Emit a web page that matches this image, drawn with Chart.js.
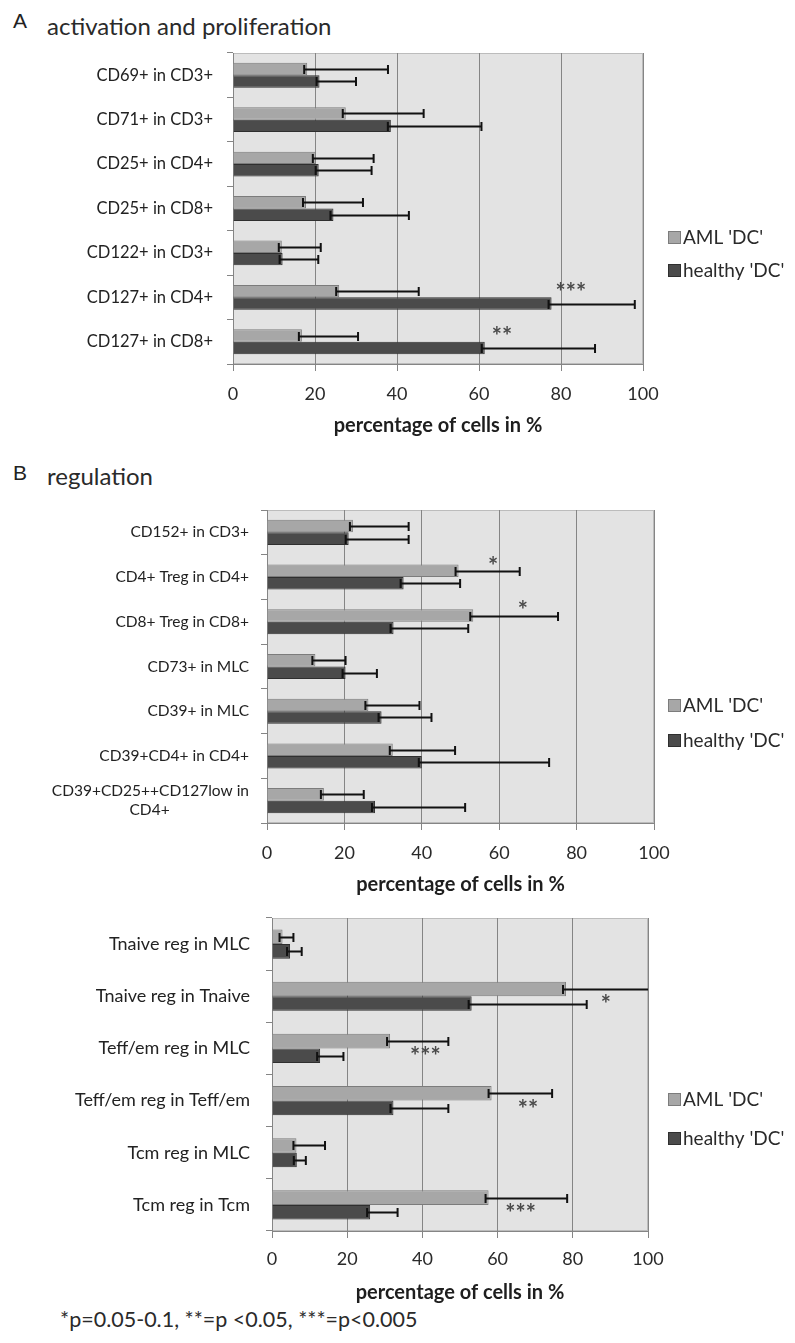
<!DOCTYPE html>
<html>
<head>
<meta charset="utf-8">
<script src="https://cdn.jsdelivr.net/npm/chart.js@4/dist/chart.umd.min.js"></script>
<style>
  body { margin: 0; background: #fff; width: 795px; height: 1343px; position: relative; overflow: hidden; font-family: Lato, sans-serif; color: #2a2a2a; }
  canvas { position: absolute; left: 0; }
  .letter { position: absolute; left: 13px; font-family: 'Liberation Sans', Arial, sans-serif; font-size: 21px; line-height: 1; color: #222; }
  .title { position: absolute; left: 47px; font-size: 24px; line-height: 1; color: #2a2a2a; }
  .note { position: absolute; left: 60px; top: 1309px; font-size: 21.5px; line-height: 1; color: #2a2a2a; }
</style>
</head>
<body>
<div class="letter" style="top:10px">A</div>
<div class="title" style="top:14px">activation and proliferation</div>
<div class="letter" style="top:462px">B</div>
<div class="title" style="top:464px">regulation</div>
<canvas id="chartA" width="795" height="410" style="top:40px"></canvas>
<canvas id="chartB" width="795" height="410" style="top:495px"></canvas>
<canvas id="chartC" width="795" height="400" style="top:905px"></canvas>
<div class="note">*p=0.05-0.1, **=p &lt;0.05, ***=p&lt;0.005</div>

<script>
const seriesNames = ["AML 'DC'", "healthy 'DC'"];
const xTicks = [0, 20, 40, 60, 80, 100];

// A: activation and proliferation
const catsA = ['CD69+ in CD3+', 'CD71+ in CD3+', 'CD25+ in CD4+', 'CD25+ in CD8+', 'CD122+ in CD3+', 'CD127+ in CD4+', 'CD127+ in CD8+'];
const amlA = [18.1, 27.5, 20.2, 17.8, 11.9, 25.9, 16.8];
const amlErrA = [19.7, 19.0, 14.1, 13.9, 9.5, 19.4, 13.7];
const healthyA = [21.1, 38.5, 20.9, 24.5, 12.1, 77.7, 61.4];
const healthyErrA = [8.9, 22.1, 12.9, 18.4, 8.7, 20.3, 26.9];
const sigA = ['', '', '', '', '', '***', '**'];
const sigAtA = [0, 0, 0, 0, 0, 82.4, 65.6];

// B: regulation
const catsB = ['CD152+ in CD3+', 'CD4+ Treg in CD4+', 'CD8+ Treg in CD8+', 'CD73+ in MLC', 'CD39+ in MLC', 'CD39+CD4+ in CD4+', ['CD39+CD25++CD127low in', 'CD4+' + ' '.repeat(20)]];
const amlB = [22.2, 49.5, 53.3, 12.5, 26.2, 32.5, 14.7];
const amlErrB = [14.4, 15.8, 21.9, 7.8, 13.2, 16.1, 10.3];
const healthyB = [21.1, 35.3, 32.7, 20.3, 29.6, 40.0, 27.9];
const healthyErrB = [15.5, 14.6, 19.3, 8.1, 12.9, 32.9, 23.3];
const sigB = ['', '*', '*', '', '', '', ''];
const sigAtB = [0, 58.4, 66.1, 0, 0, 0, 0];

// C: T reg subsets
const catsC = ['Tnaive reg in MLC', 'Tnaive reg in Tnaive', 'Teff/em reg in MLC', 'Teff/em reg in Teff/em', 'Tcm reg in MLC', 'Tcm reg in Tcm'];
const amlC = [2.8, 78.2, 31.4, 58.4, 6.5, 57.6];
const amlErrC = [2.9, 24.0, 15.5, 16.1, 7.6, 20.9];
const healthyC = [4.8, 53.1, 12.8, 32.3, 6.6, 26.1];
const healthyErrC = [3.1, 30.6, 6.2, 14.6, 2.4, 7.3];
const sigC = ['', '*', '***', '**', '', '***'];
const sigAtC = [0, 88.8, 40.8, 68.1, 0, 66.1];

const LIGHT = '#a7a7a7', LIGHT_EDGE = '#7c7c7c';
const DARK = '#4b4b4b', DARK_EDGE = '#2f2f2f';

// grey plot area with thin frame
const plotBg = {
  id: 'plotBg',
  beforeDraw(chart) {
    const { ctx, chartArea: a } = chart;
    ctx.save();
    ctx.fillStyle = '#e3e3e3';
    ctx.fillRect(a.left, a.top, a.right - a.left, a.bottom - a.top);
    ctx.strokeStyle = '#bcbcbc';
    ctx.lineWidth = 1;
    ctx.strokeRect(a.left + 0.5, a.top + 0.5, a.right - a.left - 1, a.bottom - a.top - 1);
    ctx.restore();
  }
};

// plus error bars, clipped at the plot edge
const errorBars = {
  id: 'errorBars',
  afterDatasetsDraw(chart) {
    const { ctx, chartArea: a } = chart;
    const xs = chart.scales.x;
    ctx.save();
    ctx.strokeStyle = '#111';
    ctx.lineWidth = 2;
    chart.data.datasets.forEach((ds, i) => {
      chart.getDatasetMeta(i).data.forEach((bar, j) => {
        const v = ds.data[j];
        const x0 = bar.x - 3;
        const xEnd = xs.getPixelForValue(v + ds.errors[j]);
        const x1 = Math.min(xEnd, a.right);
        const y = Math.round(bar.y) + 0.5;
        ctx.beginPath();
        ctx.moveTo(x0, y); ctx.lineTo(x1, y);
        ctx.moveTo(x0, y - 4.5); ctx.lineTo(x0, y + 4.5);
        if (xEnd <= a.right) { ctx.moveTo(x1, y - 4.5); ctx.lineTo(x1, y + 4.5); }
        ctx.stroke();
      });
    });
    ctx.restore();
  }
};

// significance stars
const stars = {
  id: 'stars',
  afterDatasetsDraw(chart, args, opts) {
    const { ctx } = chart;
    const xs = chart.scales.x;
    const meta = chart.getDatasetMeta(opts.row);
    ctx.save();
    ctx.fillStyle = '#4a4a4a';
    ctx.font = 'bold ' + opts.size + 'px Lato';
    ctx.textAlign = 'center';
    ctx.textBaseline = 'middle';
    opts.marks.forEach((m, j) => {
      if (!m) return;
      ctx.fillText(m, xs.getPixelForValue(opts.at[j]), meta.data[j].y + opts.dy);
    });
    ctx.restore();
  }
};

// legend to the right of the plot
const sideLegend = {
  id: 'sideLegend',
  afterDraw(chart, args, opts) {
    const { ctx } = chart;
    ctx.save();
    ctx.font = '19px Lato';
    ctx.textBaseline = 'middle';
    chart.data.datasets.forEach((ds, i) => {
      const y = opts.y[i];
      ctx.fillStyle = ds.backgroundColor;
      ctx.fillRect(opts.x, y - 6, 13, 13);
      ctx.strokeStyle = ds.borderColor;
      ctx.lineWidth = 1;
      ctx.strokeRect(opts.x + 0.5, y - 5.5, 12, 12);
      ctx.fillStyle = '#2a2a2a';
      ctx.fillText(ds.label, opts.x + 15, y + 1);
    });
    ctx.restore();
  }
};

function makeChart(id, cats, aml, amlErr, healthy, healthyErr, sig, sigAt, L) {
  return new Chart(document.getElementById(id), {
    type: 'bar',
    data: {
      labels: cats,
      datasets: [
        { label: seriesNames[0], data: aml, errors: amlErr, backgroundColor: LIGHT, borderColor: LIGHT_EDGE, borderWidth: 1 },
        { label: seriesNames[1], data: healthy, errors: healthyErr, backgroundColor: DARK, borderColor: DARK_EDGE, borderWidth: 1 },
      ],
    },
    options: {
      indexAxis: 'y',
      responsive: false,
      animation: false,
      events: [],
      categoryPercentage: 0.56,
      barPercentage: 1,
      layout: { padding: { left: 0, right: L.padRight, top: L.padTop, bottom: 0 } },
      scales: {
        x: {
          min: xTicks[0],
          max: xTicks[xTicks.length - 1],
          ticks: { stepSize: xTicks[1] - xTicks[0], color: '#2a2a2a', font: { family: 'Lato', size: 18 }, padding: L.tickPad },
          grid: { color: '#858585', lineWidth: 1, tickLength: 7 },
          border: { color: '#858585' },
          title: { display: true, text: 'percentage of cells in %', color: '#1e1e1e', font: { family: 'Lato', size: 20, weight: 'bold' }, padding: { top: 0, bottom: L.titlePad } },
          afterFit(s) { s.height = L.xHeight; s.paddingLeft = 0; s.paddingRight = 0; },
        },
        y: {
          ticks: { color: '#222', font: { family: 'Lato', size: L.catSize, lineHeight: 1.25 }, padding: L.catPad, autoSkip: false },
          grid: { drawOnChartArea: false, color: '#858585', tickLength: 6 },
          border: { color: '#858585' },
          afterFit(s) { s.width = L.yWidth; s.paddingTop = 0; s.paddingBottom = 0; },
        },
      },
      plugins: {
        legend: { display: false },
        tooltip: { enabled: false },
        stars: { marks: sig, at: sigAt, row: L.sigRow, dy: L.sigDy, size: L.sigSize },
        sideLegend: { x: 668, y: L.legendY },
      },
    },
    plugins: [plotBg, errorBars, stars, sideLegend],
  });
}

makeChart('chartA', catsA, amlA, amlErrA, healthyA, healthyErrA, sigA, sigAtA,
  { padRight: 152, padTop: 13, xHeight: 86, tickPad: 12, titlePad: 12, yWidth: 233, catSize: 16.5, catPad: 14,
    sigRow: 0, sigDy: 2, sigSize: 24, legendY: [197, 230] });

makeChart('chartB', catsB, amlB, amlErrB, healthyB, healthyErrB, sigB, sigAtB,
  { padRight: 141, padTop: 15, xHeight: 82, tickPad: 12, titlePad: 8, yWidth: 267, catSize: 15.5, catPad: 12,
    sigRow: 0, sigDy: -4, sigSize: 24, legendY: [210, 245] });

makeChart('chartC', catsC, amlC, amlErrC, healthyC, healthyErrC, sigC, sigAtC,
  { padRight: 147, padTop: 13, xHeight: 74, tickPad: 10, titlePad: 0, yWidth: 272, catSize: 18, catPad: 16,
    sigRow: 1, sigDy: 2, sigSize: 24, legendY: [194, 233] });
</script>
</body>
</html>
